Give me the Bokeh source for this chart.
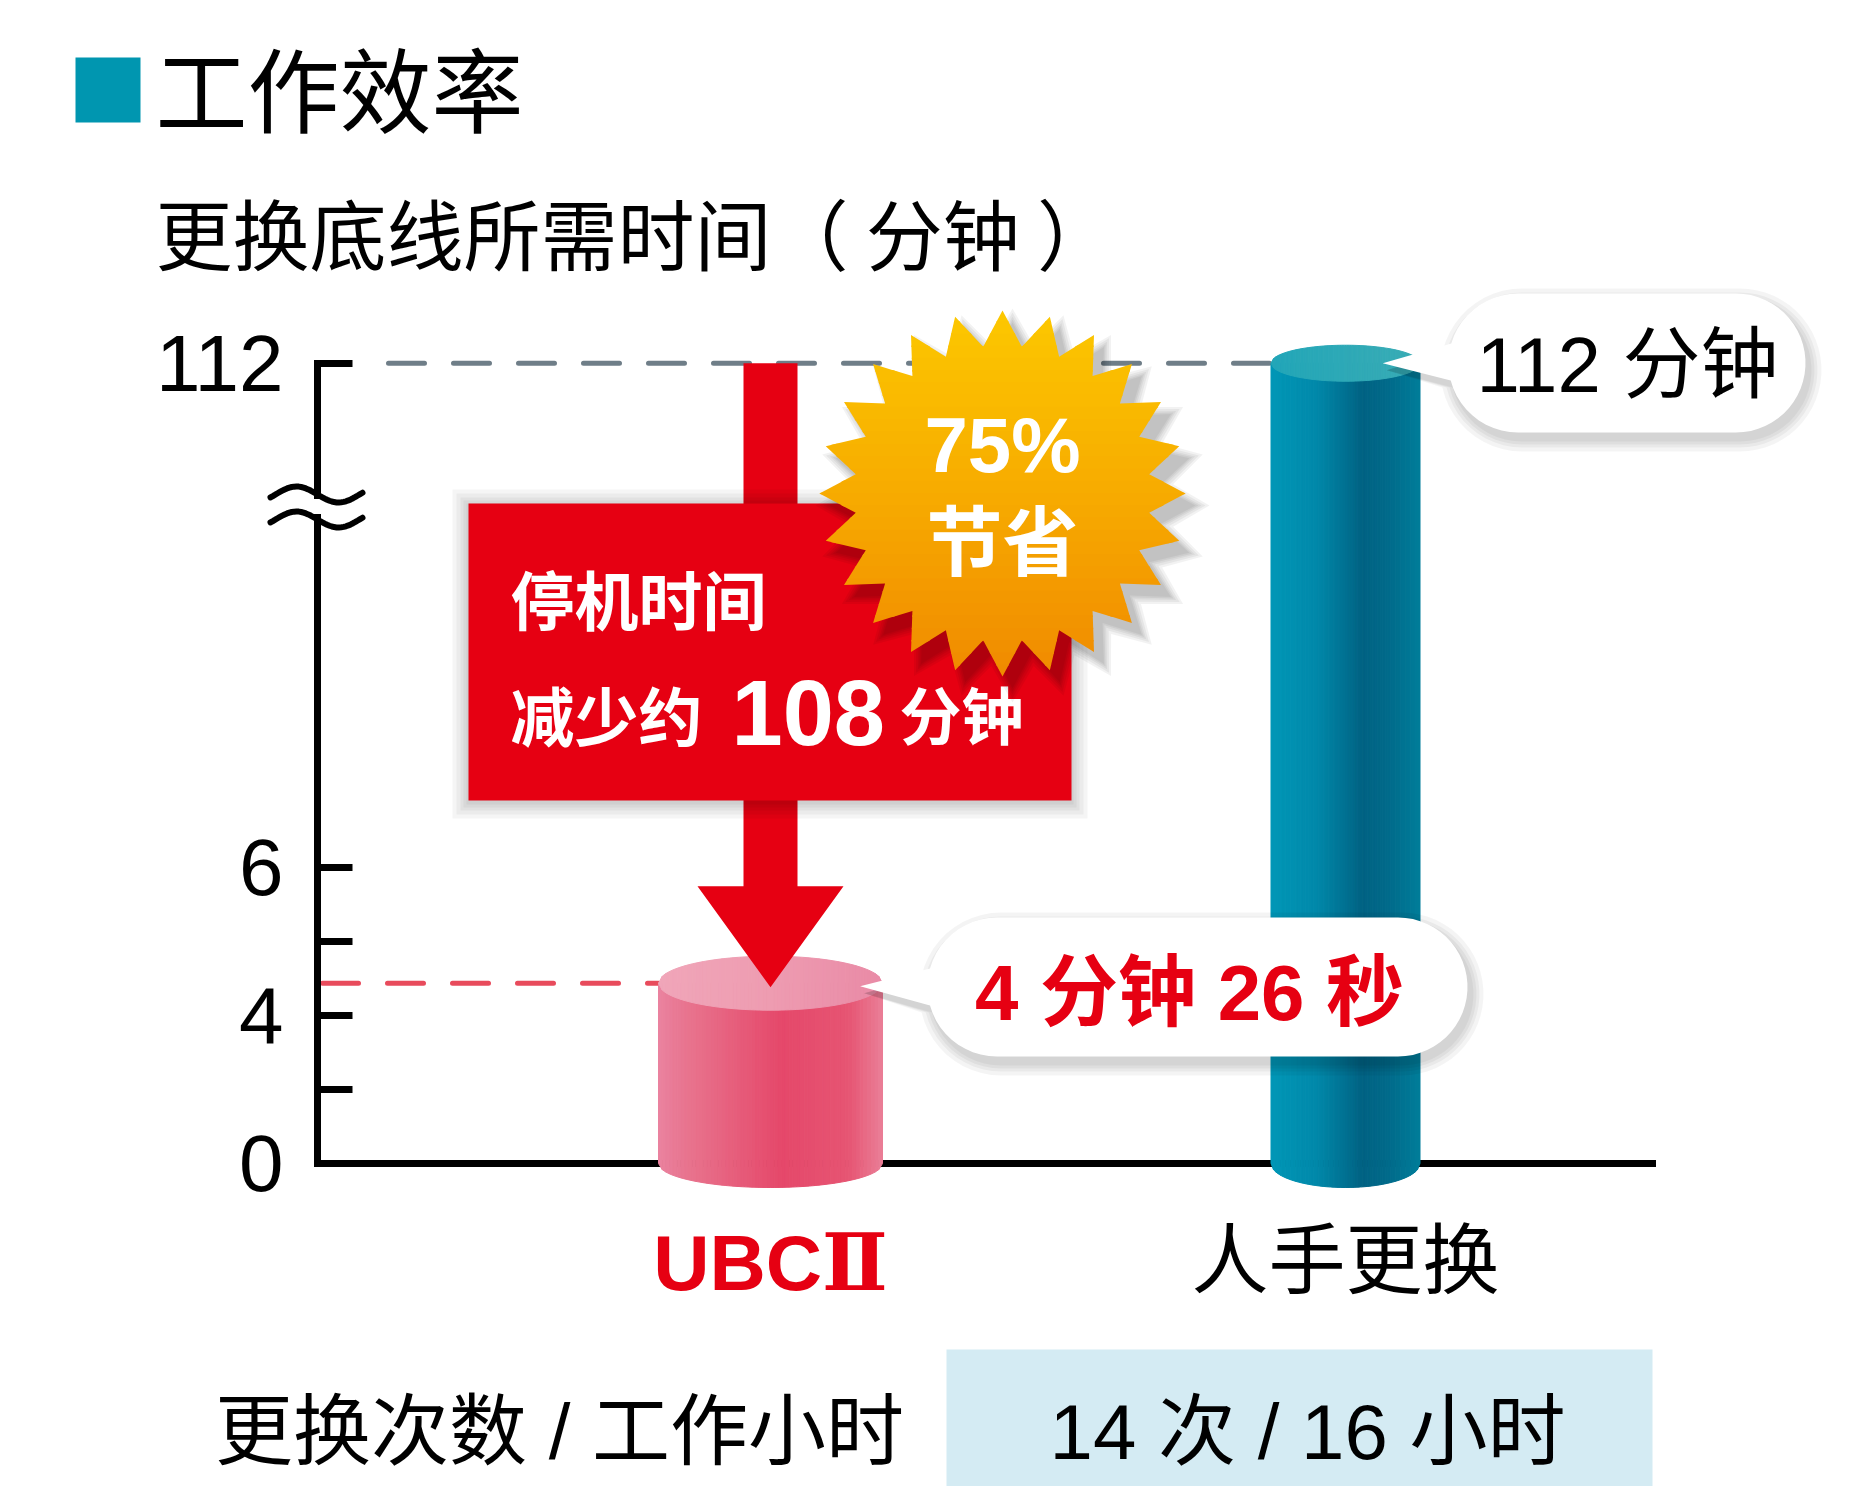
import numpy as np
from bokeh.plotting import figure
from bokeh.models import Range1d, LinearAxis, FixedTicker
from bokeh.core.properties import value
from bokeh.embed import file_html
from bokeh.resources import INLINE

# ---------------- data ----------------
title = "工作效率"
subtitle = "更换底线所需时间（ 分钟 ）"
categories = ["UBCⅡ", "人手更换"]
category_x = [1, 2]
minutes = [4 + 26 / 60, 112]              # 4 分钟 26 秒 , 112 分钟
value_labels = ["4 分钟 26 秒", "112 分钟"]
saved_minutes = 108
saved_pct = 75
y_ticks_lower = [0, 2, 4, 5, 6]
y_tick_labels_lower = ["0", "", "4", "", "6"]
y_ticks_upper = [112]
y_tick_labels_upper = ["112"]
swap_label = "更换次数 / 工作小时"
swap_value = "14 次 / 16 小时"

# broken axis scale : value -> plotted position
scale_values = [0, 4, 6, 112]
scale_positions = [0, 2, 4, 10.8]


def pos(v):
    return float(np.interp(v, scale_values, scale_positions))


# ---------------- layout helpers ----------------
W, H = 1843, 1486
OFF = 0
XPX = 575.0     # px per x unit
YPX = 74.1      # px per position unit


def dx(xr):
    return 1 + (xr - 770) / XPX


def dy(yr):
    return (1163 - yr) / YPX


def to_data(pts):
    return [dx(x) for x, _ in pts], [dy(y) for _, y in pts]


CJK = "Noto Sans CJK SC"
MIX = "Liberation Sans, Noto Sans CJK SC"
RED = "#e60012"

p = figure(width=W, height=H,
           x_range=Range1d(dx(OFF), dx(OFF + W)),
           y_range=Range1d(dy(OFF + H), dy(OFF)),
           x_axis_type=None, y_axis_type=None,
           toolbar_location=None, output_backend="svg", min_border=0)
p.outline_line_color = None
p.background_fill_color = "white"
p.border_fill_color = "white"


def txt(xr, yr, s, size, color="black", font=CJK, bold=False, align="left"):
    p.text(x=[dx(xr)], y=[dy(yr)], text=[s], text_font=value(font),
           text_font_size=f"{size}px", text_color=color,
           text_font_style="bold" if bold else "normal",
           text_align=align, text_baseline="middle")


def hex2rgb(h):
    h = h.lstrip("#")
    return [int(h[i:i + 2], 16) for i in (0, 2, 4)]


def grad(stops, ts):
    st = [s for s, _ in stops]
    cols = np.array([hex2rgb(c) for _, c in stops])
    out = []
    for t in ts:
        rgb = [int(round(np.interp(t, st, cols[:, k]))) for k in range(3)]
        out.append("#%02x%02x%02x" % tuple(rgb))
    return out


def shadow(poly_fn, layers, alpha, color="#000000"):
    for e in layers:
        xs, ys = to_data(poly_fn(e))
        p.patch(xs, ys, fill_color=color, fill_alpha=alpha, line_color=None)


# ---------------- bottom row box ----------------
p.quad(left=[dx(946)], right=[dx(1652)], top=[dy(1349)], bottom=[dy(1540)],
       fill_color="#d4ebf3", line_color=None)

# ---------------- reference dashed lines ----------------
half_w_px = [112, 74.5]
ry_top_px = [27, 18]
ry_bot_px = [24, 24]
half_w = [w / XPX for w in half_w_px]

p.line(x=[dx(388), category_x[1] - half_w[1]], y=[pos(minutes[1])] * 2,
       line_color="#6f7e88", line_width=5, line_dash="36 29", line_cap="round")
p.line(x=[dx(322), category_x[0] - half_w[0]], y=[pos(minutes[0])] * 2,
       line_color="#e84b5c", line_width=5, line_dash="36 29", line_cap="round")

# ---------------- cylinders ----------------
body_stops = [
    [(0, "#ea83a0"), (0.12, "#e8758f"), (0.55, "#e5486a"), (0.85, "#e65573"), (1.0, "#ea7e97")],
    [(0, "#0097b7"), (0.3, "#0089aa"), (0.62, "#006283"), (0.8, "#006b8b"), (1.0, "#007d9a")],
]
top_stops = [
    [(0, "#f0a6b9"), (0.5, "#ee9cb1"), (1, "#e98aa6")],
    [(0, "#22a6b8"), (1, "#3aacb5")],
]
N = 60
for i in range(2):
    cx = category_x[i]
    w = half_w[i]
    ytop = pos(minutes[i])
    ryt = ry_top_px[i] / YPX
    ryb = ry_bot_px[i] / YPX
    edges = np.linspace(cx - w, cx + w, N + 1)
    ts = (np.arange(N) + 0.5) / N
    bcols = grad(body_stops[i], ts)
    tcols = grad(top_stops[i], ts)

    def arc(x, ry):
        return ry * np.sqrt(max(0.0, 1 - ((x - cx) / w) ** 2))

    bx, by, txs, tys = [], [], [], []
    for k in range(N):
        a, b = edges[k], edges[k + 1]
        bx.append([a, b, b, a])
        by.append([ytop, ytop, -arc(b, ryb), -arc(a, ryb)])
        txs.append([a, b, b, a])
        tys.append([ytop + arc(a, ryt), ytop + arc(b, ryt), ytop - arc(b, ryt), ytop - arc(a, ryt)])
    p.patches(bx, by, fill_color=bcols, line_color=bcols, line_width=1)
    p.patches(txs, tys, fill_color=tcols, line_color=tcols, line_width=1)

# ---------------- red arrow ----------------
c = category_x[0]
sw, hw = 27 / XPX, 73 / XPX
hl = 101 / YPX
top = pos(minutes[1])
tip = pos(minutes[0]) - 4 / YPX
p.patch([c - sw, c + sw, c + sw, c + hw, c, c - hw, c - sw],
        [top, top, tip + hl, tip + hl, tip, tip + hl, tip + hl],
        fill_color=RED, line_color=None)

# ---------------- red box ----------------
BX0, BY0, BX1, BY1 = 468, 503, 1071, 800


def box_poly(e):
    return [(BX0 - e, BY0 - e + 2), (BX1 + e, BY0 - e + 2), (BX1 + e, BY1 + e + 2), (BX0 - e, BY1 + e + 2)]


shadow(box_poly, [16, 12, 8, 5, 2], 0.04)
p.quad(left=[dx(BX0)], right=[dx(BX1)], top=[dy(BY0)], bottom=[dy(BY1)],
       fill_color=RED, line_color=None)

txt(510, 596, "停机时间", 64, "white", CJK, True)
txt(510, 712, "减少约", 64, "white", CJK, True)
txt(731, 712, str(saved_minutes), 92, "white", "Liberation Sans", True)
txt(899, 712, "分钟", 62, "white", CJK, True)

# ---------------- starburst ----------------
SCX, SCY, SR, Sr = 1002, 493, 183, 148


def star_pts(e=0, ox=0, oy=0, n=24):
    pts = []
    for k in range(2 * n):
        ang = np.radians(90 + k * 180 / n)
        rad = (SR if k % 2 == 0 else Sr) + e
        pts.append((SCX + ox + rad * np.cos(ang), SCY + oy - rad * np.sin(ang)))
    return pts


shadow(lambda e: star_pts(e, 10, 12), [14, 10, 6, 3, 0], 0.05)


def clip(poly, yv, keep_ge):
    out = []
    for i in range(len(poly)):
        cur, prev = poly[i], poly[i - 1]
        cin = cur[1] >= yv if keep_ge else cur[1] <= yv
        pin = prev[1] >= yv if keep_ge else prev[1] <= yv
        if cin != pin:
            t = (yv - prev[1]) / (cur[1] - prev[1])
            out.append((prev[0] + t * (cur[0] - prev[0]), yv))
        if cin:
            out.append(cur)
    return out


star = star_pts()
NB = 30
yedges = np.linspace(SCY - SR - 1, SCY + SR + 1, NB + 1)
scols = grad([(0, "#fcc800"), (0.5, "#f7ab00"), (1, "#f08a00")], (np.arange(NB) + 0.5) / NB)
sxs, sys_, sc = [], [], []
for k in range(NB):
    poly = clip(clip(star, yedges[k] - 0.8, True), yedges[k + 1] + 0.8, False)
    if len(poly) >= 3:
        a, b = to_data(poly)
        sxs.append(a)
        sys_.append(b)
        sc.append(scols[k])
p.patches(sxs, sys_, fill_color=sc, line_color=None)

txt(1002, 444, f"{saved_pct}%", 78, "white", "Liberation Sans", True, "center")
txt(1002, 536, "节省", 76, "white", CJK, True, "center")


# ---------------- speech bubbles ----------------
def bubble(x0, y0, x1, y1, tipx, tipy, b0, b1, e=0, ox=0, oy=0):
    x0, y0, x1, y1 = x0 - e + ox, y0 - e + oy, x1 + e + ox, y1 + e + oy
    r = (y1 - y0) / 2
    cy = (y0 + y1) / 2
    lc, rc = x0 + r, x1 - r
    pts = [(lc, y0), (rc, y0)]
    for a in np.linspace(-90, 90, 30):
        pts.append((rc + r * np.cos(np.radians(a)), cy + r * np.sin(np.radians(a))))
    pts.append((lc, y1))
    t_low = 180 - np.degrees(np.arcsin(np.clip((b1 + oy - cy) / r, -1, 1)))
    t_up = 180 - np.degrees(np.arcsin(np.clip((b0 + oy - cy) / r, -1, 1)))
    for a in np.linspace(90, t_low, 12):
        pts.append((lc + r * np.cos(np.radians(a)), cy + r * np.sin(np.radians(a))))
    pts.append((tipx + ox, tipy + oy))
    for a in np.linspace(t_up, 270, 12):
        pts.append((lc + r * np.cos(np.radians(a)), cy + r * np.sin(np.radians(a))))
    return pts


def draw_bubble(x0, y0, x1, y1, tipx, tipy, b0, b1):
    shadow(lambda e: bubble(x0, y0, x1, y1, tipx, tipy, b0, b1, e, 4, 7), [12, 8, 5, 2], 0.045)
    xs, ys = to_data(bubble(x0, y0, x1, y1, tipx, tipy, b0, b1))
    p.patch(xs, ys, fill_color="white", line_color=None)


def ref_x(xd):
    return 770 + (xd - 1) * XPX


def ref_y(pd):
    return 1163 - pd * YPX


# bubble for manual replacement (112 min)
draw_bubble(1448, 293, 1805, 432,
            ref_x(category_x[1] + 0.5 * half_w[1]), ref_y(pos(minutes[1])), 343, 380)
txt(1627, 364, value_labels[1], 78, "black", MIX, False, "center")

# bubble for UBC II
draw_bubble(927, 917, 1467, 1056,
            ref_x(category_x[0] + 0.8 * half_w[0]), ref_y(pos(minutes[0])) + 3, 968, 1005)
txt(1189, 992, value_labels[0], 78, RED, MIX, True, "center")

# ---------------- axes ----------------
axis_x_loc = dx(317)
ax_low = LinearAxis(fixed_location=axis_x_loc, bounds=(0, dy(517)),
                    ticker=FixedTicker(ticks=[pos(v) for v in y_ticks_lower]),
                    major_label_overrides={pos(v): s for v, s in zip(y_ticks_lower, y_tick_labels_lower)})
ax_up = LinearAxis(fixed_location=axis_x_loc, bounds=(dy(495), pos(y_ticks_upper[0])),
                   ticker=FixedTicker(ticks=[pos(v) for v in y_ticks_upper]),
                   major_label_overrides={pos(v): s for v, s in zip(y_ticks_upper, y_tick_labels_upper)})
for ax in (ax_low, ax_up):
    ax.axis_line_width = 7
    ax.axis_line_color = "black"
    ax.axis_line_cap = "square"
    ax.major_tick_in = 35
    ax.major_tick_out = 0
    ax.major_tick_line_width = 7
    ax.major_tick_line_color = "black"
    ax.minor_tick_in = 0
    ax.minor_tick_out = 0
    ax.major_label_text_font = "Liberation Sans"
    ax.major_label_text_font_size = "80px"
    ax.major_label_text_color = "black"
    ax.major_label_standoff = 34
    p.add_layout(ax, "left")

ax_x1 = LinearAxis(fixed_location=pos(0), bounds=(axis_x_loc, dx(1652)),
                   ticker=FixedTicker(ticks=[category_x[0]]),
                   major_label_overrides={category_x[0]: categories[0]})
ax_x1.axis_line_width = 7
ax_x1.axis_line_color = "black"
ax_x1.axis_line_cap = "square"
ax_x1.major_label_text_color = RED
ax_x1.major_label_text_font = "Liberation Sans, DejaVu Serif, Noto Sans CJK SC"
ax_x1.major_label_text_font_style = "bold"
ax_x1.major_label_text_font_size = "78px"
ax_x1.major_label_standoff = 55

ax_x2 = LinearAxis(fixed_location=pos(0),
                   ticker=FixedTicker(ticks=[category_x[1]]),
                   major_label_overrides={category_x[1]: categories[1]})
ax_x2.axis_line_color = None
ax_x2.major_label_text_color = "black"
ax_x2.major_label_text_font = CJK
ax_x2.major_label_text_font_size = "77px"
ax_x2.major_label_standoff = 35
for ax in (ax_x1, ax_x2):
    ax.major_tick_in = 0
    ax.major_tick_out = 0
    ax.minor_tick_in = 0
    ax.minor_tick_out = 0
    ax.level = "underlay"
    p.add_layout(ax, "below")

# axis break symbol
wx = np.linspace(270, 362, 40)
for yc in (494, 519):
    wy = yc - 8 * np.sin(2 * np.pi * (wx - 275) / 84)
    p.line([dx(v) for v in wx], [dy(v) for v in wy], line_color="black",
           line_width=6, line_cap="round", level="overlay")

# ---------------- titles & bottom row ----------------
p.quad(left=[dx(75)], right=[dx(140)], top=[dy(57)], bottom=[dy(122)],
       fill_color="#0096b0", line_color=None)
txt(155, 85, title, 92, "black", CJK)
txt(155, 231, subtitle, 77, "black", CJK)
txt(559, 1431, swap_label, 78, "black", MIX, False, "center")
txt(1307, 1431, swap_value, 78, "black", MIX, False, "center")

open("out.html", "w").write(file_html(p, INLINE))
